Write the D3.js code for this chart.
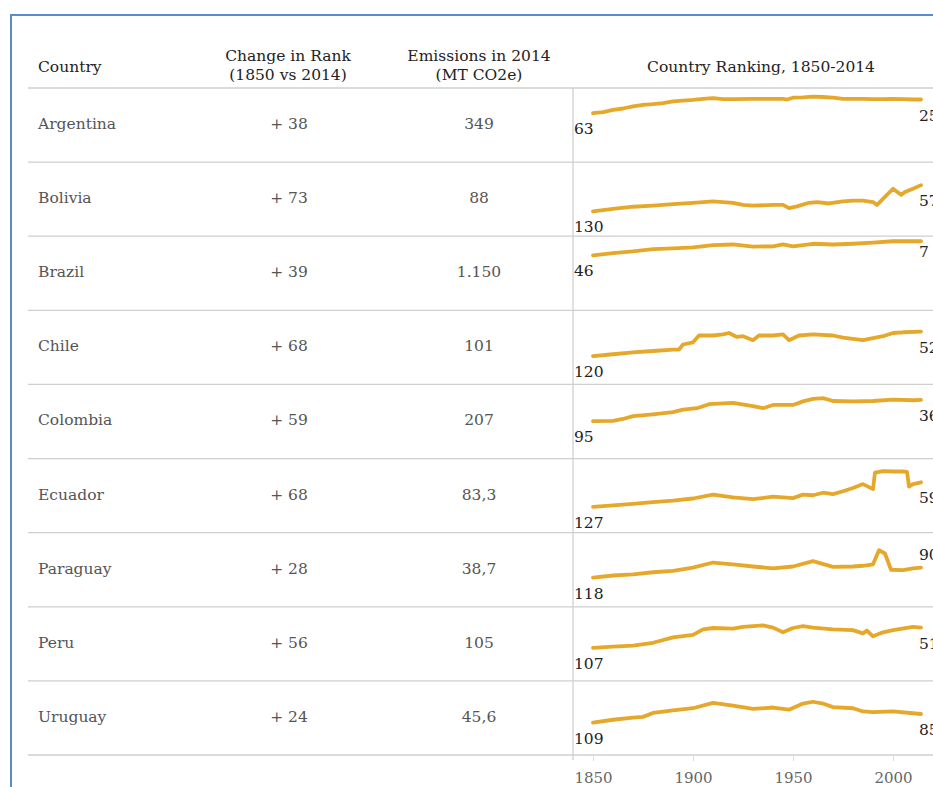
<!DOCTYPE html>
<html>
<head>
<meta charset="utf-8">
<script src="https://cdn.jsdelivr.net/npm/d3@7"></script>
<style>
  body { margin: 0; background: #fff; }
  svg { display: block; font-family: "DejaVu Serif", Georgia, serif; }
</style>
</head>
<body>
<svg id="chart"></svg>
<script>
const countries = ['Argentina', 'Bolivia', 'Brazil', 'Chile', 'Colombia', 'Ecuador', 'Paraguay', 'Peru', 'Uruguay'];
const rankChange = [38, 73, 39, 68, 59, 68, 28, 56, 24];
const emissions2014 = ['349', '88', '1.150', '101', '207', '83,3', '38,7', '105', '45,6'];
const axisYears = [1850, 1900, 1950, 2000];

// rank by year
const argentina = [[1850,63],[1855,60],[1860,54],[1865,50],[1870,44],[1875,40],[1880,38],[1885,35],[1890,30],[1895,28],[1900,26],[1905,23],[1910,21],[1915,24],[1920,24],[1930,23],[1940,23],[1945,23],[1947,25],[1950,20],[1955,19],[1960,17],[1965,18],[1970,20],[1975,23],[1980,23],[1985,23],[1990,24],[1995,24],[2000,23],[2005,24],[2010,25],[2014,25]];
const bolivia = [[1850,130],[1860,123],[1870,117],[1880,114],[1890,110],[1900,106],[1910,102],[1920,106],[1925,112],[1930,114],[1940,112],[1945,112],[1948,121],[1952,116],[1958,106],[1962,104],[1968,108],[1975,102],[1980,100],[1985,100],[1990,104],[1992,112],[2000,67],[2004,84],[2006,76],[2010,67],[2014,57]];
const brazil = [[1850,46],[1860,40],[1870,35],[1880,29],[1890,27],[1900,24],[1910,18],[1920,16],[1930,22],[1940,21],[1945,16],[1950,21],[1960,14],[1970,16],[1980,14],[1990,11],[2000,7],[2014,7]];
const chile = [[1850,120],[1860,115],[1870,110],[1880,106],[1890,102],[1893,102],[1895,88],[1900,82],[1903,63],[1910,63],[1915,60],[1918,56],[1922,67],[1925,65],[1930,76],[1933,63],[1940,63],[1945,60],[1948,76],[1953,63],[1960,60],[1970,63],[1975,69],[1985,76],[1990,70],[1995,65],[2000,56],[2005,54],[2014,52]];
const colombia = [[1850,95],[1860,94],[1865,89],[1870,81],[1880,76],[1890,70],[1895,63],[1902,59],[1908,48],[1920,44],[1930,53],[1935,59],[1940,50],[1950,50],[1955,40],[1960,33],[1965,31],[1970,39],[1980,40],[1990,39],[2000,35],[2010,37],[2014,36]];
const ecuador = [[1850,127],[1860,123],[1870,119],[1880,114],[1890,110],[1900,104],[1910,93],[1920,101],[1930,106],[1940,99],[1950,103],[1955,93],[1960,95],[1965,88],[1970,92],[1975,84],[1980,75],[1985,64],[1990,78],[1991,32],[1995,28],[2000,29],[2005,29],[2007,30],[2008,71],[2010,64],[2014,59]];
const paraguay = [[1850,118],[1860,112],[1870,109],[1880,103],[1890,99],[1900,90],[1910,76],[1920,81],[1930,87],[1940,92],[1950,87],[1960,72],[1970,88],[1980,87],[1985,85],[1990,81],[1993,42],[1996,51],[1999,96],[2005,97],[2010,92],[2014,90]];
const peru = [[1850,107],[1860,104],[1870,101],[1880,93],[1890,78],[1900,71],[1905,56],[1910,52],[1920,54],[1925,49],[1930,47],[1935,45],[1940,51],[1945,64],[1950,52],[1955,47],[1960,51],[1970,56],[1980,58],[1985,67],[1987,59],[1990,75],[1995,64],[2000,58],[2010,49],[2014,51]];
const uruguay = [[1850,109],[1860,101],[1870,95],[1875,93],[1880,82],[1890,75],[1900,69],[1910,54],[1920,62],[1930,71],[1940,67],[1948,73],[1955,56],[1960,51],[1965,56],[1970,66],[1980,69],[1985,78],[1990,80],[2000,78],[2014,85]];
const rankSeries = [argentina, bolivia, brazil, chile, colombia, ecuador, paraguay, peru, uruguay];

const width = 933;
const height = 787;
const gold = '#e6a82a';
const gridColor = '#cfcfcf';

const svg = d3.select('#chart')
    .attr('width', width)
    .attr('height', height);

// blue frame
svg.append('path')
    .attr('d', `M11,${height} V15 H${width}`)
    .attr('fill', 'none')
    .attr('stroke', '#5b8ad2')
    .attr('stroke-width', 2);

const rowBand = d3.scaleBand()
    .domain(countries)
    .range([88, 755]);

const x = d3.scaleLinear()
    .domain([1850, 2014])
    .range([593, 921]);

const y = d3.scaleLinear()
    .domain([0, 200])
    .range([2.5, 74.5]);

// header
const header = svg.append('g').attr('fill', '#222').attr('font-size', 15.5);
header.append('text').attr('x', 38).attr('y', 68).attr('dominant-baseline', 'middle').text('Country');
header.append('text').attr('x', 288).attr('y', 57).attr('text-anchor', 'middle').attr('dominant-baseline', 'middle').text('Change in Rank');
header.append('text').attr('x', 288).attr('y', 76).attr('text-anchor', 'middle').attr('dominant-baseline', 'middle').text('(1850 vs 2014)');
header.append('text').attr('x', 479).attr('y', 57).attr('text-anchor', 'middle').attr('dominant-baseline', 'middle').text('Emissions in 2014');
header.append('text').attr('x', 479).attr('y', 76).attr('text-anchor', 'middle').attr('dominant-baseline', 'middle').text('(MT CO2e)');
header.append('text').attr('x', 761).attr('y', 68).attr('text-anchor', 'middle').attr('dominant-baseline', 'middle').text('Country Ranking, 1850-2014');

// grid lines
svg.append('g')
    .selectAll('line')
    .data(countries.concat(['end']))
    .join('line')
    .attr('x1', 28)
    .attr('x2', width)
    .attr('y1', d => d === 'end' ? 755 : rowBand(d))
    .attr('y2', d => d === 'end' ? 755 : rowBand(d))
    .attr('stroke', gridColor)
    .attr('stroke-width', 1.3);

svg.append('line')
    .attr('x1', 573).attr('x2', 573)
    .attr('y1', 88).attr('y2', 760)
    .attr('stroke', gridColor)
    .attr('stroke-width', 1.3);

const line = d3.line()
    .x(d => x(d[0]))
    .y(d => y(d[1]));

const rows = svg.append('g')
    .selectAll('g')
    .data(countries)
    .join('g')
    .attr('transform', d => `translate(0,${rowBand(d)})`);

rows.append('text')
    .attr('x', 38)
    .attr('y', rowBand.bandwidth() / 2)
    .attr('dominant-baseline', 'middle')
    .attr('fill', '#555')
    .attr('font-size', 15.5)
    .text(d => d);

rows.append('text')
    .attr('x', 289)
    .attr('y', rowBand.bandwidth() / 2)
    .attr('text-anchor', 'middle')
    .attr('dominant-baseline', 'middle')
    .attr('fill', '#555')
    .attr('font-size', 15.5)
    .text((d, i) => '+ ' + rankChange[i]);

rows.append('text')
    .attr('x', 479)
    .attr('y', rowBand.bandwidth() / 2)
    .attr('text-anchor', 'middle')
    .attr('dominant-baseline', 'middle')
    .attr('fill', '#555')
    .attr('font-size', 15.5)
    .text((d, i) => emissions2014[i]);

rows.append('path')
    .attr('d', (d, i) => line(rankSeries[i]))
    .attr('fill', 'none')
    .attr('stroke', gold)
    .attr('stroke-width', 3.8)
    .attr('stroke-linejoin', 'round')
    .attr('stroke-linecap', 'round');

rows.append('text')
    .attr('x', 574)
    .attr('y', (d, i) => y(rankSeries[i][0][1]) + 17)
    .attr('dominant-baseline', 'middle')
    .attr('fill', '#222')
    .attr('font-size', 15.5)
    .text((d, i) => rankSeries[i][0][1]);

rows.append('text')
    .attr('x', 919)
    .attr('y', (d, i) => {
        const last = rankSeries[i][rankSeries[i].length - 1][1];
        if (d === 'Paraguay') return y(last) - 12;
        if (d === 'Brazil') return y(last) + 12;
        return y(last) + 17;
    })
    .attr('dominant-baseline', 'middle')
    .attr('fill', '#222')
    .attr('font-size', 15.5)
    .text((d, i) => rankSeries[i][rankSeries[i].length - 1][1]);

// year axis
const axis = svg.append('g')
    .attr('transform', 'translate(0,755)')
    .call(d3.axisBottom(x).tickValues(axisYears).tickFormat(d3.format('d')).tickSize(6).tickPadding(11));

axis.select('.domain').remove();
axis.selectAll('.tick line').attr('stroke', '#ddd');
axis.selectAll('.tick text')
    .attr('fill', '#666')
    .attr('font-size', 15)
    .attr('font-family', '"DejaVu Serif", Georgia, serif');
</script>
</body>
</html>
